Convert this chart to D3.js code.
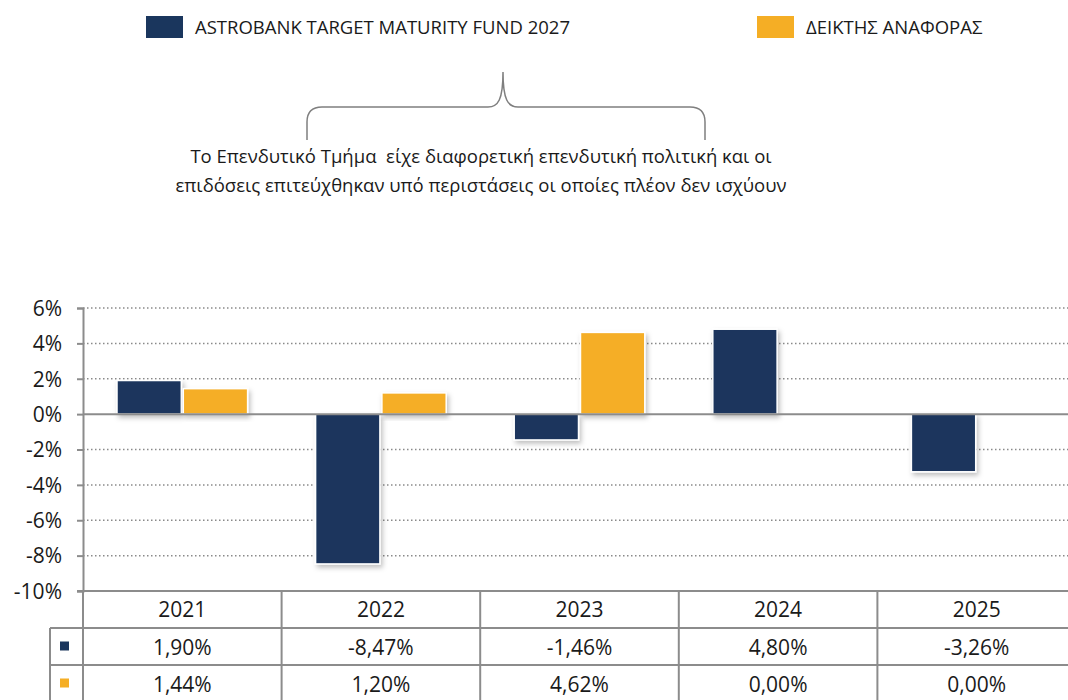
<!DOCTYPE html>
<html>
<head>
<meta charset="utf-8">
<script src="https://cdn.jsdelivr.net/npm/d3@7"></script>
<style>
  body { margin: 0; background: #fff; }
  svg text { font-family: "Open Sans", "Noto Sans", sans-serif; fill: #1a1a1a; }
</style>
</head>
<body>
<div id="chart"></div>
<script>
// data
var years = ["2021", "2022", "2023", "2024", "2025"];
var seriesNames = ["ASTROBANK TARGET MATURITY FUND 2027", "ΔΕΙΚΤΗΣ ΑΝΑΦΟΡΑΣ"];
var fundValues = [1.90, -8.47, -1.46, 4.80, -3.26];
var benchValues = [1.44, 1.20, 4.62, 0.00, 0.00];
var yTicks = [-10, -8, -6, -4, -2, 0, 2, 4, 6];
var noteLines = [
    "Το Επενδυτικό Τμήμα  είχε διαφορετική επενδυτική πολιτική και οι",
    "επιδόσεις επιτεύχθηκαν υπό περιστάσεις οι οποίες πλέον δεν ισχύουν"
];

var colors = ["#1a365d", "#f5ae25"];
var width = 1068, height = 700;
var plotLeft = 83, plotRight = 1076, plotTop = 308, plotBottom = 591;
var rowH = 37;

var svg = d3.select("#chart").append("svg")
    .attr("width", width)
    .attr("height", height);

var defs = svg.append("defs");
var f = defs.append("filter").attr("id", "shadow")
    .attr("x", "-20%").attr("y", "-20%").attr("width", "150%").attr("height", "150%");
f.append("feDropShadow")
    .attr("dx", 2).attr("dy", 3).attr("stdDeviation", 2.5)
    .attr("flood-color", "#000").attr("flood-opacity", 0.25);

// legend
var legendX = [146, 757];
seriesNames.forEach(function (name, i) {
    svg.append("rect")
        .attr("x", legendX[i]).attr("y", 16)
        .attr("width", 37).attr("height", 22)
        .attr("fill", colors[i]);
    svg.append("text")
        .attr("x", legendX[i] + 49).attr("y", 34)
        .style("font-size", "18.5px")
        .text(name);
});

// brace + note
svg.append("path")
    .attr("d", "M307,140 L307,122 Q307,107 322,107 L488,107 C498,107 503,100 503,72 C503,100 508,107 518,107 L690,107 Q705,107 705,122 L705,140")
    .attr("fill", "none")
    .attr("stroke", "#7f7f7f")
    .attr("stroke-width", 1.5);

noteLines.forEach(function (line, i) {
    svg.append("text")
        .attr("x", 481).attr("y", 163 + i * 29)
        .attr("text-anchor", "middle")
        .style("font-size", "18.5px")
        .style("white-space", "pre")
        .text(line);
});

// scales
var x = d3.scaleBand().domain(years).range([plotLeft, plotRight]);
var xInner = d3.scaleBand().domain([0, 1])
    .range([34, x.bandwidth() - 34])
    .paddingInner(0.03);
var y = d3.scaleLinear().domain([-10, 6]).range([plotBottom, plotTop]);

// gridlines
svg.append("g").selectAll("line")
    .data(yTicks.filter(function (d) { return d != 0 && d != -10; }))
    .enter().append("line")
    .attr("x1", plotLeft).attr("x2", width)
    .attr("y1", function (d) { return y(d); })
    .attr("y2", function (d) { return y(d); })
    .attr("stroke", "#8a8a8a")
    .attr("stroke-width", 1.5)
    .attr("stroke-dasharray", "1.5,2.5");

// y axis
var yAxis = d3.axisLeft(y)
    .tickValues(yTicks)
    .tickSize(6)
    .tickFormat(function (d) { return d + "%"; });
var yg = svg.append("g")
    .attr("transform", "translate(" + plotLeft + ",0)")
    .call(yAxis);
yg.select(".domain").attr("stroke", "#8c8c8c").attr("stroke-width", 2);
yg.selectAll(".tick line").attr("stroke", "#8c8c8c").attr("stroke-width", 2);
yg.selectAll(".tick text")
    .attr("x", -21)
    .attr("dy", "0.35em")
    .style("font-size", "21px")
    .style("font-family", "Open Sans")
    .style("fill", "#1a1a1a");

// bars
var bars = [];
years.forEach(function (yr, i) {
    bars.push({ year: yr, s: 0, v: fundValues[i] });
    bars.push({ year: yr, s: 1, v: benchValues[i] });
});

svg.append("g").selectAll("rect")
    .data(bars.filter(function (d) { return d.v != 0; }))
    .enter().append("rect")
    .attr("x", function (d) { return x(d.year) + xInner(d.s); })
    .attr("width", xInner.bandwidth())
    .attr("y", function (d) { return y(Math.max(0, d.v)); })
    .attr("height", function (d) { return Math.abs(y(d.v) - y(0)); })
    .attr("fill", function (d) { return colors[d.s]; })
    .attr("stroke", "#fff")
    .attr("stroke-width", 1.5)
    .attr("filter", "url(#shadow)");

// zero line
svg.append("line")
    .attr("x1", plotLeft).attr("x2", width)
    .attr("y1", y(0)).attr("y2", y(0))
    .attr("stroke", "#8c8c8c")
    .attr("stroke-width", 2);

// data table
var fmt = function (v) { return v.toFixed(2).replace(".", ",") + "%"; };
var tg = svg.append("g");
var lineStyle = function (sel) {
    return sel.attr("stroke", "#8c8c8c").attr("stroke-width", 2);
};
lineStyle(tg.append("line").attr("x1", plotLeft - 6).attr("x2", width).attr("y1", plotBottom).attr("y2", plotBottom));
lineStyle(tg.append("line").attr("x1", 50).attr("x2", width).attr("y1", plotBottom + rowH).attr("y2", plotBottom + rowH));
lineStyle(tg.append("line").attr("x1", 50).attr("x2", width).attr("y1", plotBottom + rowH * 2).attr("y2", plotBottom + rowH * 2));
lineStyle(tg.append("line").attr("x1", 50).attr("x2", 50).attr("y1", plotBottom + rowH).attr("y2", height));
years.forEach(function (yr) {
    lineStyle(tg.append("line")
        .attr("x1", x(yr)).attr("x2", x(yr))
        .attr("y1", plotBottom).attr("y2", height));
});
lineStyle(tg.append("line").attr("x1", plotRight).attr("x2", plotRight).attr("y1", plotBottom).attr("y2", height));

tg.selectAll(".yr").data(years).enter().append("text")
    .attr("x", function (d) { return x(d) + x.bandwidth() / 2; })
    .attr("y", plotBottom + 26)
    .attr("text-anchor", "middle")
    .style("font-size", "21px")
    .text(function (d) { return d; });

[fundValues, benchValues].forEach(function (vals, s) {
    var ry = plotBottom + rowH * (s + 1);
    tg.append("rect")
        .attr("x", 60).attr("y", ry + rowH / 2 - 5)
        .attr("width", 9).attr("height", 9)
        .attr("fill", colors[s]);
    tg.selectAll(".v" + s).data(vals).enter().append("text")
        .attr("x", function (d, i) { return x(years[i]) + x.bandwidth() / 2; })
        .attr("y", ry + 27)
        .attr("text-anchor", "middle")
        .style("font-size", "21px")
        .text(function (d) { return fmt(d); });
});
</script>
</body>
</html>
